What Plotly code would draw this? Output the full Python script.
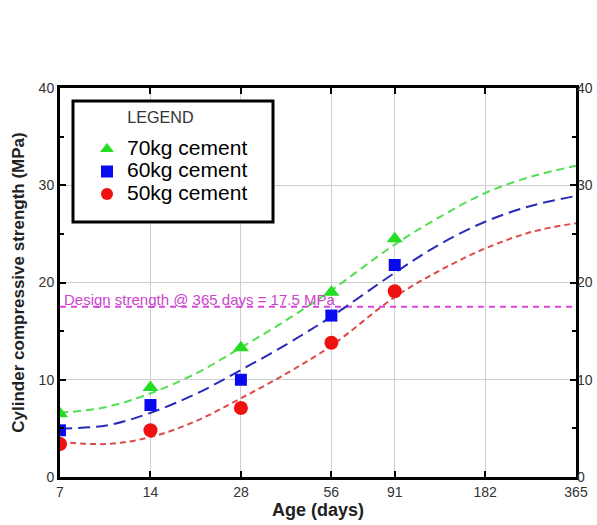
import plotly.graph_objects as go

# Measured data
ages = [7, 14, 28, 56, 91]
s70 = [6.5, 9.2, 13.3, 19.0, 24.5]
s60 = [4.8, 7.4, 10.0, 16.6, 21.8]
s50 = [3.4, 4.8, 7.1, 13.8, 19.1]

# Fitted trend curves
curve_x = [7, 10, 14, 20, 28, 40, 56, 91, 128, 182, 260, 365]
c70 = [6.6, 7.2, 8.6, 10.7, 13.3, 16.2, 19.2, 23.9, 26.7, 29.2, 30.9, 32.0]
c60 = [5.0, 5.3, 6.6, 8.6, 11.0, 13.7, 16.5, 21.0, 23.9, 26.25, 27.9, 28.9]
c50 = [3.6, 3.4, 4.1, 5.8, 8.1, 10.7, 13.5, 18.5, 21.2, 23.5, 25.2, 26.1]

design_x = [7, 365]
design_y = [17.5, 17.5]

tick_vals = [7, 14, 28, 56, 91, 182, 365]
tick_text = ["7", "14", "28", "56", "91", "182", "365"]

FONT = "Liberation Sans, Arial, sans-serif"

fig = go.Figure()

fig.add_trace(go.Scatter(x=design_x, y=design_y, mode="lines",
                         line=dict(color="#dd44dd", width=2, dash="6px,5px"),
                         showlegend=False, hoverinfo="skip"))

for cy, col, dash in [(c70, "#55dd55", "8px,5px"),
                      (c60, "#2a2ab8", "12px,6px"),
                      (c50, "#dd4a4a", "6px,4px")]:
    fig.add_trace(go.Scatter(x=curve_x, y=cy, mode="lines",
                             line=dict(color=col, width=2, dash=dash, shape="spline"),
                             showlegend=False, hoverinfo="skip"))


def lname(t):
    return "<span style='font-size:21px'>" + t + "</span>"


fig.add_trace(go.Scatter(x=ages, y=s70, mode="markers", name=lname("70kg cement"),
                         marker=dict(symbol="triangle-up", size=14, color="#22dd22")))
fig.add_trace(go.Scatter(x=ages, y=s60, mode="markers", name=lname("60kg cement"),
                         marker=dict(symbol="square", size=12, color="#0a0aee")))
fig.add_trace(go.Scatter(x=ages, y=s50, mode="markers", name=lname("50kg cement"),
                         marker=dict(symbol="circle", size=14, color="#ee1111")))

fig.add_annotation(x=0.003, y=17.5, xref="paper", yref="y", xanchor="left",
                   yanchor="bottom", yshift=-3, showarrow=False,
                   text="Design strength @ 365 days = 17.5 MPa",
                   font=dict(family=FONT, size=15, color="#cc44cc"))

# legend frame
fig.add_shape(type="rect", xref="paper", yref="paper",
              x0=0.0252, x1=0.4128, y0=0.6555, y1=0.9666,
              line=dict(color="black", width=3), fillcolor="white", layer="above")

fig.update_layout(
    width=597, height=525,
    margin=dict(l=60, r=21, t=88, b=48, autoexpand=False),
    paper_bgcolor="white", plot_bgcolor="white",
    font=dict(family=FONT, color="#333"),
    legend=dict(x=0.0523, y=0.962, xanchor="left", yanchor="top",
                bgcolor="rgba(0,0,0,0)", borderwidth=0,
                font=dict(size=15, color="black"),
                title=dict(text="\u00a0" * 6 + "<sup>LEGEND</sup>",
                           side="top", font=dict(size=23, color="#333")),
                itemwidth=30, itemsizing="constant", tracegroupgap=0),
    xaxis=dict(type="log", range=[0.8451, 2.5623],
               tickvals=tick_vals, ticktext=tick_text, automargin=False,
               ticks="inside", ticklen=6, tickwidth=2, tickcolor="black",
               showline=True, linecolor="black", linewidth=3, mirror="ticks",
               showgrid=True, gridcolor="#cfcfcf", gridwidth=1,
               tickfont=dict(size=14, color="#333"),
               title=dict(text="<b>Age (days)</b>", font=dict(size=18, color="#222"),
                          standoff=4),
               zeroline=False),
    yaxis=dict(range=[0, 40], tickvals=[0, 10, 20, 30, 40], automargin=False,
               ticks="inside", ticklen=6, tickwidth=2, tickcolor="black",
               minor=dict(dtick=5, ticks="inside", ticklen=4, tickcolor="black", showgrid=False),
               showline=True, linecolor="black", linewidth=3, mirror="ticks",
               showgrid=True, gridcolor="#cfcfcf", gridwidth=1,
               tickfont=dict(size=14, color="#333"),
               title=dict(text="<b>Cylinder compressive strength (MPa)</b>",
                          font=dict(size=17, color="#222"), standoff=10),
               zeroline=False),
    yaxis2=dict(range=[0, 40], tickvals=[0, 10, 20, 30, 40], overlaying="y",
                side="right", showgrid=False, ticks="", showline=False, automargin=False,
                tickfont=dict(size=14, color="#333"), zeroline=False),
)

fig.add_trace(go.Scatter(x=[7], y=[0], yaxis="y2", mode="markers",
                         marker=dict(opacity=0), showlegend=False, hoverinfo="skip"))

fig.write_html("out.html", config={"displayModeBar": False},
               post_script="document.body.style.margin='0';")
